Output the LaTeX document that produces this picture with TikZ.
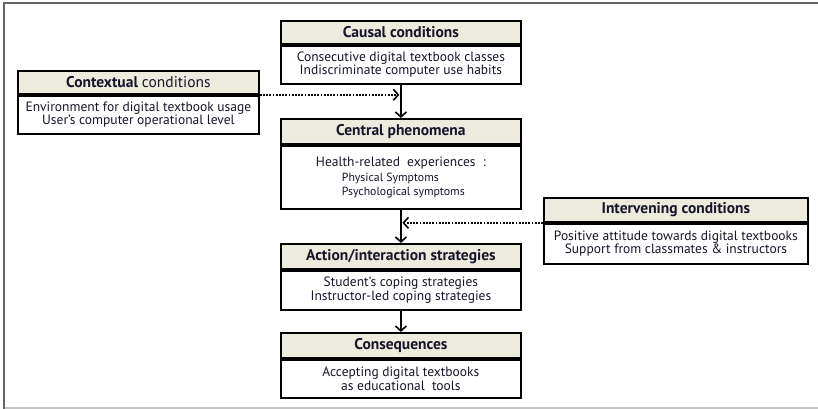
\documentclass[tikz,border=0pt]{standalone}
\usepackage{fontspec}
\setmainfont{PT Sans}
\usetikzlibrary{arrows.meta}
\definecolor{hdrfill}{RGB}{237,234,222}
\definecolor{txt}{RGB}{22,22,42}
\definecolor{framedark}{RGB}{100,100,100}
\definecolor{framelight}{RGB}{195,195,195}
\tikzset{
  hdr/.style={draw=black, line width=1.8pt, fill=hdrfill, anchor=north west, inner sep=0pt,
    text=txt, font=\fontsize{15.5}{16}\selectfont\bfseries, minimum height=#1},
  bodybox/.style={draw=black, line width=1.8pt, fill=white, anchor=north west, inner sep=0pt,
    text=txt, font=\fontsize{13.5}{13.5}\selectfont, align=center, minimum height=#1},
  wide/.style={minimum width=240pt},
  arr/.style={line width=1.6pt, -{Straight Barb[length=5pt,width=11pt,line width=1.6pt]}},
  dotarr/.style={line width=2pt, dash pattern=on 1.8pt off 1.4pt,
    -{Straight Barb[length=5pt,width=11pt,line width=1.6pt]}, shorten >=1.5pt}
}
\begin{document}
\begin{tikzpicture}[x=1pt,y=-1pt]
\useasboundingbox (0,0) rectangle (818,409);
\draw[framedark, line width=2pt] (4,409) -- (4,3) -- (818,3);
\draw[framelight, line width=1.5pt] (5,408) -- (818,408);

% Causal
\node[hdr=23pt, wide] (causalH) at (280,20) {Causal conditions};
\node[bodybox=38pt, wide] (causalB) at (causalH.south west) {Consecutive digital textbook classes\\Indiscriminate computer use habits};

% Contextual
\node[hdr=23pt, minimum width=241pt] (ctxH) at (17,70) {Contextual \mdseries conditions};
\node[bodybox=38pt, minimum width=241pt] (ctxB) at (ctxH.south west) {Environment for digital textbook usage\\User's computer operational level};

% Central
\node[hdr=25pt, wide] (centH) at (280,118) {Central phenomena};
\node[bodybox=63pt, wide] (centB) at (centH.south west) {Health-related\ \ experiences\ \ :\\[2pt]
  {\fontsize{11.8}{13}\selectfont\makebox[240pt][l]{\hspace{61pt}Physical Symptoms}}\\
  {\fontsize{11.8}{13}\selectfont\makebox[240pt][l]{\hspace{61pt}Psychological symptoms}}};

% Intervening
\node[hdr=24pt, minimum width=264pt] (intH) at (543,197) {Intervening conditions};
\node[bodybox=40pt, minimum width=264pt] (intB) at (intH.south west) {Positive\ attitude towards digital textbooks\\Support from classmates \& instructors};

% Action
\node[hdr=25pt, wide] (actH) at (280,243) {Action/interaction strategies};
\node[bodybox=39pt, wide] (actB) at (actH.south west) {Student's coping strategies\\Instructor-led coping strategies};

% Consequences
\node[hdr=25pt, wide] (conH) at (280,332) {Consequences};
\node[bodybox=38pt, wide] (conB) at (conH.south west) {Accepting digital textbooks\\as educational\ \ tools};

% connectors
\draw[arr] (causalB.south) -- (centH.north);
\draw[arr] (centB.south) -- (actH.north);
\draw[arr] (actB.south) -- (conH.north);
\draw[dotarr] (ctxH.south east) -- (ctxH.south east -| causalB.south);
\draw[dotarr] (intH.south west) -- (intH.south west -| centB.south);
\end{tikzpicture}
\end{document}
